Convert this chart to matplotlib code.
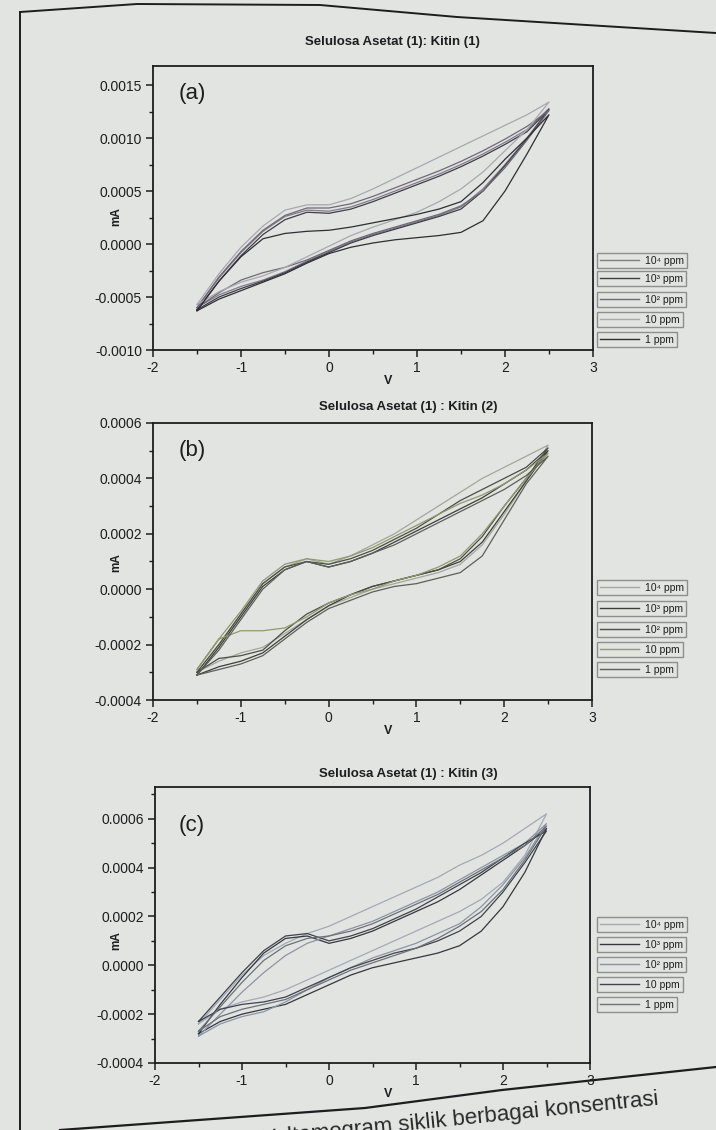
import matplotlib
matplotlib.use("Agg")
import matplotlib.pyplot as plt
from matplotlib.lines import Line2D
from matplotlib.ticker import MultipleLocator, FormatStrFormatter

BG = "#e1e4e0"; INK = "#1d1d20"; FRAME = "#8e8f8c"
W, H = 716, 1130
plt.rcParams.update({
    "font.family": ["Liberation Sans", "DejaVu Sans"],
    "figure.facecolor": BG, "axes.facecolor": BG,
    "text.color": INK, "axes.edgecolor": INK, "axes.linewidth": 1.3,
    "xtick.color": INK, "ytick.color": INK,
})

# ---------- data (mA vs V) ----------
volts = [-1.5, -1.25, -1.0, -0.75, -0.5, -0.25, 0.0, 0.25, 0.5,
         0.75, 1.0, 1.25, 1.5, 1.75, 2.0, 2.25, 2.5]
conc_labels = ["10⁴ ppm", "10³ ppm", "10² ppm", "10 ppm", "1 ppm"]

# (a) Selulosa Asetat (1): Kitin (1)
a_lower = [
    [-0.00060, -0.00048, -0.00040, -0.00034, -0.00026, -0.00016, -0.00007, 0.00002, 0.00009,
     0.00015, 0.00021, 0.00027, 0.00035, 0.00052, 0.00075, 0.00100, 0.00128],
    [-0.00062, -0.00050, -0.00042, -0.00035, -0.00027, -0.00017, -0.00008, 0.00001, 0.00008,
     0.00014, 0.00020, 0.00026, 0.00033, 0.00050, 0.00074, 0.00099, 0.00127],
    [-0.00060, -0.00046, -0.00034, -0.00027, -0.00022, -0.00015, -0.00006, 0.00003, 0.00010,
     0.00016, 0.00022, 0.00028, 0.00036, 0.00050, 0.00072, 0.00098, 0.00126],
    [-0.00057, -0.00045, -0.00036, -0.00030, -0.00022, -0.00012, -0.00002, 0.00008, 0.00016,
     0.00023, 0.00030, 0.00040, 0.00052, 0.00068, 0.00088, 0.00108, 0.00134],
    [-0.00063, -0.00052, -0.00044, -0.00036, -0.00028, -0.00018, -0.00009, -0.00003, 0.00001,
     0.00004, 0.00006, 0.00008, 0.00011, 0.00022, 0.00050, 0.00085, 0.00122],
]
a_upper = [
    [-0.00060, -0.00032, -0.00008, 0.00012, 0.00026, 0.00032, 0.00031, 0.00035, 0.00042,
     0.00050, 0.00058, 0.00066, 0.00075, 0.00085, 0.00096, 0.00108, 0.00128],
    [-0.00062, -0.00035, -0.00011, 0.00009, 0.00023, 0.00030, 0.00029, 0.00033, 0.00040,
     0.00048, 0.00056, 0.00064, 0.00073, 0.00083, 0.00094, 0.00106, 0.00127],
    [-0.00060, -0.00031, -0.00007, 0.00013, 0.00027, 0.00034, 0.00034, 0.00038, 0.00045,
     0.00053, 0.00061, 0.00069, 0.00078, 0.00088, 0.00099, 0.00111, 0.00126],
    [-0.00057, -0.00028, -0.00003, 0.00017, 0.00032, 0.00037, 0.00037, 0.00043, 0.00052,
     0.00062, 0.00072, 0.00082, 0.00092, 0.00102, 0.00112, 0.00122, 0.00134],
    [-0.00063, -0.00035, -0.00012, 0.00005, 0.00010, 0.00012, 0.00013, 0.00016, 0.00020,
     0.00024, 0.00028, 0.00033, 0.00040, 0.00058, 0.00080, 0.00100, 0.00122],
]

# (b) Selulosa Asetat (1) : Kitin (2)
b_lower = [
    [-0.00030, -0.00026, -0.00023, -0.00021, -0.00016, -0.00011, -0.00006, -0.00003, 0.00000,
     0.00002, 0.00004, 0.00006, 0.00009, 0.00016, 0.00027, 0.00039, 0.00052],
    [-0.00031, -0.00028, -0.00026, -0.00023, -0.00017, -0.00011, -0.00006, -0.00002, 0.00001,
     0.00003, 0.00005, 0.00007, 0.00010, 0.00017, 0.00028, 0.00039, 0.00050],
    [-0.00030, -0.00025, -0.00024, -0.00022, -0.00015, -0.00009, -0.00005, -0.00002, 0.00001,
     0.00003, 0.00005, 0.00007, 0.00011, 0.00019, 0.00030, 0.00040, 0.00051],
    [-0.00029, -0.00018, -0.00015, -0.00015, -0.00014, -0.00010, -0.00005, -0.00002, 0.00000,
     0.00003, 0.00005, 0.00008, 0.00012, 0.00020, 0.00030, 0.00040, 0.00049],
    [-0.00031, -0.00029, -0.00027, -0.00024, -0.00018, -0.00012, -0.00007, -0.00004, -0.00001,
     0.00001, 0.00002, 0.00004, 0.00006, 0.00012, 0.00025, 0.00038, 0.00048],
]
b_upper = [
    [-0.00030, -0.00020, -0.00009, 0.00002, 0.00008, 0.00011, 0.00009, 0.00012, 0.00016,
     0.00020, 0.00025, 0.00030, 0.00035, 0.00040, 0.00044, 0.00048, 0.00052],
    [-0.00031, -0.00021, -0.00010, 0.00001, 0.00007, 0.00010, 0.00008, 0.00010, 0.00013,
     0.00017, 0.00021, 0.00025, 0.00029, 0.00033, 0.00038, 0.00043, 0.00050],
    [-0.00030, -0.00020, -0.00009, 0.00002, 0.00008, 0.00010, 0.00009, 0.00011, 0.00014,
     0.00018, 0.00022, 0.00027, 0.00032, 0.00036, 0.00040, 0.00044, 0.00051],
    [-0.00029, -0.00018, -0.00008, 0.00003, 0.00009, 0.00011, 0.00010, 0.00012, 0.00015,
     0.00019, 0.00023, 0.00027, 0.00031, 0.00034, 0.00038, 0.00043, 0.00049],
    [-0.00031, -0.00022, -0.00011, 0.00000, 0.00007, 0.00010, 0.00008, 0.00010, 0.00013,
     0.00016, 0.00020, 0.00024, 0.00028, 0.00032, 0.00036, 0.00041, 0.00048],
]

# (c) Selulosa Asetat (1) : Kitin (3)
c_lower = [
    [-0.00024, -0.00018, -0.00015, -0.00013, -0.00010, -0.00006, -0.00002, 0.00002, 0.00006,
     0.00010, 0.00014, 0.00018, 0.00022, 0.00027, 0.00034, 0.00045, 0.00062],
    [-0.00028, -0.00023, -0.00020, -0.00018, -0.00016, -0.00012, -0.00008, -0.00004, -0.00001,
     0.00001, 0.00003, 0.00005, 0.00008, 0.00014, 0.00024, 0.00038, 0.00056],
    [-0.00029, -0.00024, -0.00021, -0.00019, -0.00015, -0.00010, -0.00005, -0.00001, 0.00003,
     0.00006, 0.00009, 0.00013, 0.00017, 0.00024, 0.00033, 0.00044, 0.00058],
    [-0.00023, -0.00018, -0.00016, -0.00015, -0.00013, -0.00009, -0.00005, -0.00001, 0.00002,
     0.00005, 0.00007, 0.00010, 0.00014, 0.00020, 0.00030, 0.00042, 0.00055],
    [-0.00027, -0.00021, -0.00018, -0.00016, -0.00014, -0.00010, -0.00006, -0.00002, 0.00001,
     0.00004, 0.00007, 0.00011, 0.00016, 0.00022, 0.00031, 0.00043, 0.00057],
]
c_upper = [
    [-0.00024, -0.00014, -0.00004, 0.00004, 0.00009, 0.00013, 0.00016, 0.00020, 0.00024,
     0.00028, 0.00032, 0.00036, 0.00041, 0.00045, 0.00050, 0.00056, 0.00062],
    [-0.00028, -0.00016, -0.00005, 0.00005, 0.00011, 0.00012, 0.00009, 0.00011, 0.00014,
     0.00018, 0.00022, 0.00026, 0.00031, 0.00037, 0.00043, 0.00049, 0.00056],
    [-0.00029, -0.00020, -0.00011, -0.00003, 0.00004, 0.00009, 0.00012, 0.00015, 0.00018,
     0.00022, 0.00026, 0.00030, 0.00035, 0.00040, 0.00045, 0.00050, 0.00058],
    [-0.00023, -0.00013, -0.00003, 0.00006, 0.00012, 0.00013, 0.00010, 0.00012, 0.00015,
     0.00019, 0.00023, 0.00028, 0.00033, 0.00038, 0.00044, 0.00050, 0.00055],
    [-0.00027, -0.00017, -0.00007, 0.00002, 0.00008, 0.00011, 0.00012, 0.00014, 0.00017,
     0.00021, 0.00025, 0.00029, 0.00034, 0.00039, 0.00044, 0.00049, 0.00057],
]

a_colors = ["#837a8c", "#3f3d45", "#6f6876", "#aaa7b0", "#2f2e34"]
b_colors = ["#a2a89a", "#3c3f38", "#4b4e46", "#8f9a6e", "#5d5f58"]
c_colors = ["#a3aab5", "#34373d", "#8d95a3", "#3f4248", "#6c717a"]


def fx(px):
    return px / W


def fy(py):
    return 1 - py / H


fig = plt.figure(figsize=(W / 100, H / 100), dpi=100)

panels = [
    # title, tag, lower, upper, colours, box px (l, t, r, b), ylim, major,
    # title x/y, tag y, mA y, legend tops
    ("Selulosa Asetat (1): Kitin (1)", "(a)", a_lower, a_upper, a_colors,
     (153, 66, 593, 350), (-0.001, 0.00168), 0.0005, (392, 42), 94, 217,
     [253, 271, 292, 312, 332]),
    ("Selulosa Asetat (1) : Kitin (2)", "(b)", b_lower, b_upper, b_colors,
     (153, 423, 592, 700), (-0.0004, 0.0006), 0.0002, (408, 407), 451, 563,
     [580, 601, 622, 642, 662]),
    ("Selulosa Asetat (1) : Kitin (3)", "(c)", c_lower, c_upper, c_colors,
     (155, 787, 590, 1063), (-0.0004, 0.00073), 0.0002, (408, 774), 826, 941,
     [917, 937, 957, 977, 997]),
]

for (title, tag, lower, upper, colors, (l, t, r, b), ylim, major,
     (tx, ty), tag_y, ma_y, ltops) in panels:
    ax = fig.add_axes([fx(l), fy(b), (r - l) / W, (b - t) / H])
    for lo, up, col in zip(lower, upper, colors):
        ax.plot(volts + volts[::-1], lo + up[::-1], color=col, lw=0.9)
    ax.set_xlim(-2, 3)
    ax.set_ylim(*ylim)
    ax.xaxis.set_major_locator(MultipleLocator(1))
    ax.xaxis.set_minor_locator(MultipleLocator(0.5))
    ax.yaxis.set_major_locator(MultipleLocator(major))
    ax.yaxis.set_minor_locator(MultipleLocator(major / 2))
    ax.yaxis.set_major_formatter(FormatStrFormatter("%.4f"))
    ax.xaxis.set_major_formatter(FormatStrFormatter("%d"))
    ax.tick_params(which="major", direction="out", length=5, width=1.1, labelsize=10, pad=3)
    ax.tick_params(which="minor", direction="out", length=3, width=1.0)
    ax.tick_params(top=False, right=False)
    fig.text(fx(tx), fy(ty), title, ha="center", va="center",
             fontsize=9.5, fontweight="bold")
    fig.text(fx(179), fy(tag_y), tag, ha="left", va="center", fontsize=16)
    fig.text(fx(116), fy(ma_y), "mA", rotation=90, ha="center", va="center",
             fontsize=8.5, fontweight="bold")
    fig.text(fx(388), fy(b + 31), "V", ha="center", va="center", fontsize=9, fontweight="bold")
    for lab, col, top in zip(conc_labels, colors, ltops):
        fig.legend(handles=[Line2D([], [], color=col, lw=1.0)], labels=[lab],
                   loc="upper left", bbox_to_anchor=(fx(597), fy(top)),
                   fontsize=7.5, frameon=True, fancybox=False, edgecolor=FRAME,
                   facecolor=BG, framealpha=1, handlelength=3.8, handletextpad=0.6,
                   borderpad=0.25, borderaxespad=0)

# page edges of the photographed sheet
page_top_x = [20, 137, 320, 457, 716]
page_top_y = [12, 4, 5, 17, 33]
page_bot_x = [60, 365, 502, 716]
page_bot_y = [1130, 1108, 1090, 1067]
fig.add_artist(Line2D([fx(v) for v in page_top_x], [fy(v) for v in page_top_y],
                      color=INK, lw=1.4))
fig.add_artist(Line2D([fx(20), fx(20)], [fy(12), fy(1130)], color=INK, lw=1.4))
fig.add_artist(Line2D([fx(v) for v in page_bot_x], [fy(v) for v in page_bot_y],
                      color=INK, lw=1.6))

# caption of the page, partly running off the bottom of the photo
fig.text(fx(262), fy(1145), "Voltamogram siklik berbagai konsentrasi", rotation=5.8,
         ha="left", va="baseline", fontsize=16, color="#2a2a2c", rotation_mode="anchor")

fig.savefig("out.png", dpi=100)
